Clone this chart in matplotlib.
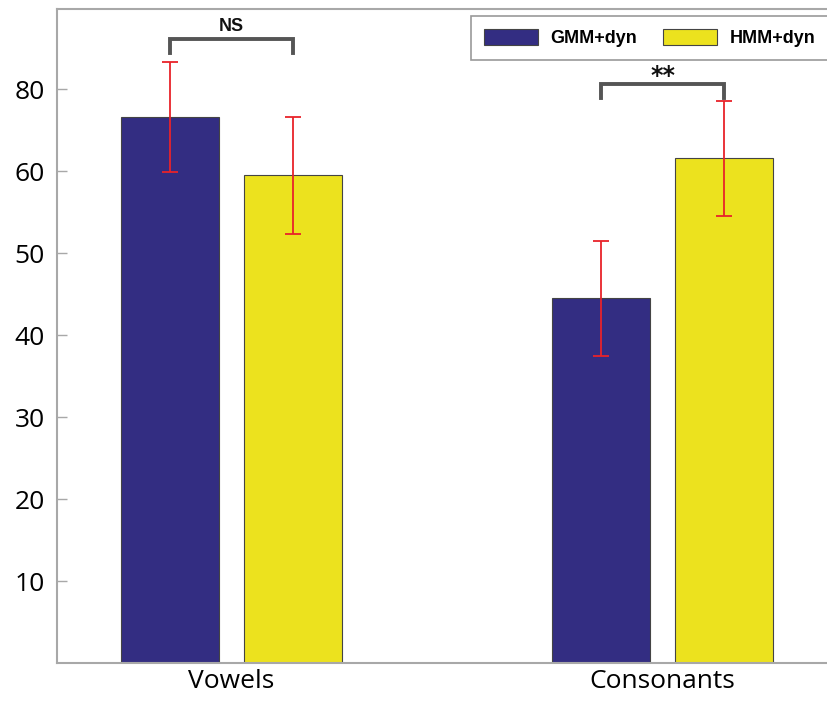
import matplotlib

matplotlib.use("Agg")
import matplotlib.pyplot as plt
import numpy as np


# data
groups = ["Vowels", "Consonants"]
gmm_vals = [66.6, 44.5]
gmm_err = [6.7, 7.0]
hmm_vals = [59.5, 61.6]
hmm_err = [7.1, 7.0]
ytick_pos = [10, 20, 30, 40, 50, 60, 70]
ytick_labels = ["10", "20", "30", "40", "50", "60", "80"]
sig_labels = ["NS", "**"]
sig_heights = [74.4, 68.9]

NAVY = "#332d82"
YELLOW = "#ece21e"
BRACKET = "#555555"
SPINE = "#a8a8a8"

plt.rcParams["font.family"] = ["Open Sans", "DejaVu Sans"]

fig = plt.figure(figsize=(8.27, 7.02), dpi=100)
ax = fig.add_axes([57 / 827, 1 - 663 / 702, 1 - 57 / 827 + 0.01, (663 - 9) / 702])

x = np.arange(len(groups))
width = 0.227
off = 0.143

err_kw = dict(ecolor="#e8232a", elinewidth=1.3, capsize=6, capthick=1.3)
ax.bar(x - off, gmm_vals, width, yerr=gmm_err, color=NAVY, edgecolor="#444444",
       linewidth=0.8, label="GMM+dyn", error_kw=err_kw, zorder=2)
ax.bar(x + off, hmm_vals, width, yerr=hmm_err, color=YELLOW, edgecolor="#444444",
       linewidth=0.8, label="HMM+dyn", error_kw=err_kw, zorder=2)

# significance brackets
for xi, lab, h in zip(x, sig_labels, sig_heights):
    x0, x1 = xi - off, xi + off
    ax.plot([x0, x0, x1, x1], [h, h + 1.7, h + 1.7, h], color=BRACKET, lw=2.8,
            solid_joinstyle="miter", zorder=3)
    if lab == "NS":
        ax.text(xi, h + 2.2, lab, ha="center", va="bottom", fontsize=13,
                fontweight="bold", family="Liberation Sans", color="#111111")
    else:
        ax.text(xi, h + 1.85, lab, ha="center", va="baseline", fontsize=17,
                fontweight="bold", family="DejaVu Sans", color="#111111",
                zorder=6)

ax.set_xlim(-0.404, 1.40)
ax.set_ylim(0, 79.8)
ax.set_xticks(x)
ax.set_xticklabels(groups, fontsize=19)
ax.set_yticks(ytick_pos)
ax.set_yticklabels(ytick_labels, fontsize=19)
ax.tick_params(axis="x", length=0, pad=4)
ax.tick_params(axis="y", direction="in", length=7, width=1, color=SPINE, pad=9)

for side in ["left", "bottom", "top"]:
    ax.spines[side].set_color(SPINE)
    ax.spines[side].set_linewidth(1.5)
ax.spines["right"].set_visible(False)

leg = ax.legend(loc="upper right", bbox_to_anchor=(0.9906, 0.9893), ncol=2,
                frameon=True, fancybox=False, edgecolor="#999999",
                prop={"family": "Liberation Sans", "weight": "bold", "size": 13},
                handlelength=3.0, handleheight=1.05, columnspacing=1.4,
                borderpad=0.7, handletextpad=0.7, borderaxespad=0)
leg.get_frame().set_linewidth(1.2)
leg.get_frame().set_alpha(1)

fig.savefig("out.png", dpi=100, facecolor="white")
